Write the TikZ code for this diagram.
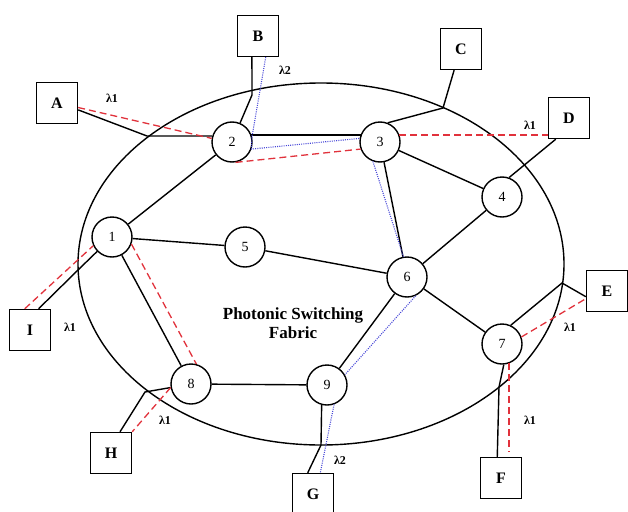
\documentclass[tikz,border=0pt]{standalone}
\usepackage{fontspec}
\setmainfont{Liberation Serif}
\usetikzlibrary{arrows,automata}
\definecolor{lamred}{RGB}{225,50,60}
\definecolor{lamblue}{RGB}{70,70,215}

\begin{document}
\begin{tikzpicture}[x=1pt,y=-1pt,line width=1.4pt,
    every state/.style={draw,minimum size=40pt,inner sep=0pt,font=\fontsize{14}{14}\selectfont},
    port/.style={draw,minimum size=41pt,inner sep=0pt,font=\fontsize{16}{16}\selectfont\bfseries},
    lamred/.style={draw=lamred,line width=1.3pt,dash pattern=on 7pt off 4pt},
    lamblue/.style={draw=lamblue,line width=1.1pt,dash pattern=on 1pt off 1.2pt},
    wave/.style={font=\fontsize{12}{12}\selectfont\bfseries}]
  \useasboundingbox (0,0) rectangle (628,511);
  \draw (321,264) ellipse [x radius=243pt, y radius=181pt];
  \node[font=\fontsize{17}{19}\selectfont\bfseries,align=center] (fab) at (293,323) {Photonic Switching\\Fabric};

  % switches
  \node[state] (n1) at (112,237) {1};
  \node[state] (n2) at (232,142) {2};
  \node[state] (n3) at (380,142) {3};
  \node[state] (n4) at (502,197) {4};
  \node[state] (n5) at (245,247) {5};
  \node[state] (n6) at (407,277) {6};
  \node[state] (n7) at (502,344) {7};
  \node[state] (n8) at (191,384) {8};
  \node[state] (n9) at (327,385) {9};

  % access nodes
  \node[port] (A) at (57,103)  {A};
  \node[port] (B) at (258,36)  {B};
  \node[port] (C) at (461,49)  {C};
  \node[port] (D) at (569,118) {D};
  \node[port] (E) at (607,291) {E};
  \node[port] (F) at (501,478) {F};
  \node[port] (G) at (313,494) {G};
  \node[port] (H) at (111,453) {H};
  \node[port] (I) at (30,330)  {I};

  % where the links go through the fabric border
  \coordinate (jA) at (147,136);
  \coordinate (jB) at (252,95);
  \coordinate (jC) at (443,108);
  \coordinate (jE) at (562,283);
  \coordinate (jF) at (499,387);
  \coordinate (jG) at (321,445);
  \coordinate (jH) at (145,392);
  \coordinate (jI) at (78,270);

  \path (n1) edge (n2) edge (n5) edge (n8)
        (n2.20) edge (n3.160)
        (n3) edge (n4) edge (n6)
        (n6) edge (n5) edge (n4) edge (n7) edge (n9)
        (n8) edge (n9);
  \draw (A.-18) -- (jA) -- (n2.163);
  \draw (B.-106) -- (jB) -- (n2.67);
  \draw (C.-108) -- (jC) -- (n3.68);
  \draw (D.-122) -- (n4.70);
  \draw (E.195) -- (jE) -- (n7.65);
  \draw (F.100) -- (jF) -- (n7.-85);
  \draw (G.104) -- (jG) -- (n9.-105);
  \draw (H.67) -- (jH) -- (n8);
  \draw (I.68) -- (jI) -- (n1);

  % lambda 1 paths
  \draw[lamred] (A.-12) -- (n2.170);
  \draw[lamred] (n2.-80) -- (n3.200);
  \draw[lamred] (n3.20) -- (n3.20 -| D.west);
  \draw[lamred] (I.104) -- (n1.205);
  \draw[lamred] (n1.-20) -- (n8.75);
  \draw[lamred] (n8.190) -- (H.north east);
  \draw[lamred] (n7.20) -- (E.200);
  \draw[lamred,shorten >=5pt] (n7.-70) -- (n7.-70 |- F.north);

  % lambda 2 path
  \draw[lamblue] (B.-70) -- (n2.15) -- (n2.-20) -- (n3.170);
  \draw[lamblue] (n3.-110) -- (n6.100);
  \draw[lamblue] (n6.-65) -- (n9.30);
  \draw[lamblue] (n9.-70) -- (G.71);

  \node[wave] (wA) at (112,98)  {λ1};
  \node[wave] (wB) at (285,70)  {λ2};
  \node[wave] (wD) at (530,125) {λ1};
  \node[wave] (wI) at (70,327)  {λ1};
  \node[wave] (wH) at (165,420) {λ1};
  \node[wave] (wE) at (570,327) {λ1};
  \node[wave] (wF) at (530,420) {λ1};
  \node[wave] (wG) at (340,460) {λ2};
\end{tikzpicture}
\end{document}
